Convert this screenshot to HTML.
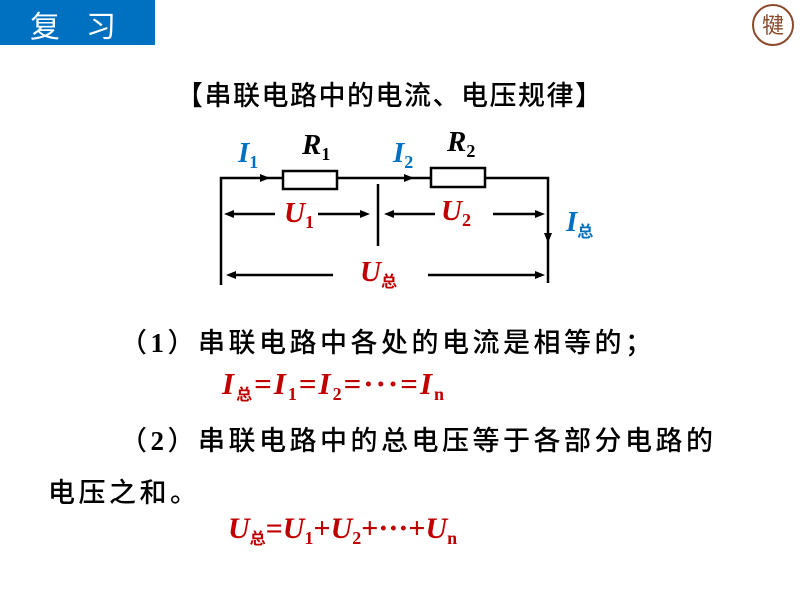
<!DOCTYPE html><html><head><meta charset="utf-8"><style>
body{margin:0;width:800px;height:600px;background:#fff;position:relative;overflow:hidden;font-family:"Liberation Sans","Noto Sans CJK SC",sans-serif}
.a{position:absolute;white-space:nowrap}
.cn{font-size:27px;letter-spacing:3.5px;color:#000;font-family:"Noto Sans CJK SC",sans-serif;font-weight:500}
.cn b{font-family:"Liberation Serif",serif;font-weight:bold}
.f{font-family:"Liberation Serif","Noto Serif CJK SC",serif;font-weight:bold;color:#c00000;font-size:29px}
.f i{font-style:italic}
.f sub{font-size:18px;vertical-align:-6px;font-style:normal}
.s{font-family:"Noto Sans CJK SC",sans-serif;font-size:16px!important}
</style></head><body>
<div class="a" style="left:0;top:0;width:155px;height:45px;background:#0070c0"></div>
<div class="a" style="left:30px;top:2px;color:#fff;font-size:30px;font-family:'Noto Sans CJK SC',sans-serif;letter-spacing:26px">复习</div>
<div class="a" style="left:752px;top:4px;width:42px;height:42px;border:2px solid #8b4a2b;border-radius:50%;color:#8b4a2b;font-size:22px;text-align:center;line-height:40px;box-sizing:border-box">犍</div>
<div class="a cn" style="left:176px;top:74px;letter-spacing:1.5px">【串联电路中的电流、电压规律】</div>
<svg class="a" style="left:0;top:0" width="800" height="600">
<g stroke="#000" stroke-width="2.5" fill="none">
<path d="M221 285V178H283M337 178H431M485 178H548V283"/>
<rect x="283" y="171" width="54" height="18" fill="#fff"/>
<rect x="431" y="168" width="54" height="19" fill="#fff"/>
<path d="M378 184V246"/>
<path d="M275 214H232M318 214H362M435 214H393M493 214H535M333 275H234M428 275H535"/>
</g>
<g fill="#000">
<path d="M270 178l-10-4v8z"/><path d="M414 178l-10-4v8z"/>
<path d="M548 243l-4-10h8z"/>
<path d="M224 214l10-4v8z"/><path d="M370 214l-10-4v8z"/>
<path d="M384 214l10-4v8z"/><path d="M545 214l-10-4v8z"/>
<path d="M226 275l10-4v8z"/><path d="M545 275l-10-4v8z"/>
</g>
</svg>
<div class="a f" style="left:238px;top:137px;color:#0070c0"><i>I</i><sub>1</sub></div>
<div class="a f" style="left:302px;top:129px;color:#000"><i>R</i><sub>1</sub></div>
<div class="a f" style="left:393px;top:137px;color:#0070c0"><i>I</i><sub>2</sub></div>
<div class="a f" style="left:447px;top:126px;color:#000"><i>R</i><sub>2</sub></div>
<div class="a f" style="left:284px;top:197px"><i>U</i><sub>1</sub></div>
<div class="a f" style="left:441px;top:195px"><i>U</i><sub>2</sub></div>
<div class="a f" style="left:566px;top:206px;color:#0070c0"><i>I</i><sub class="s">总</sub></div>
<div class="a f" style="left:360px;top:256px"><i>U</i><sub class="s">总</sub></div>
<div class="a cn" style="left:120px;top:321px">（<b>1</b>）串联电路中各处的电流是相等的；</div>
<div class="a f" style="left:222px;top:366px;font-size:31px;letter-spacing:2px"><i>I</i><sub class="s">总</sub>=<i>I</i><sub>1</sub>=<i>I</i><sub>2</sub>=···=<i>I</i><sub>n</sub></div>
<div class="a cn" style="left:120px;top:419px">（<b>2</b>）串联电路中的总电压等于各部分电路的</div>
<div class="a cn" style="left:48px;top:471px">电压之和。</div>
<div class="a f" style="left:228px;top:512px;font-size:30px"><i>U</i><sub class="s">总</sub>=<i>U</i><sub>1</sub>+<i>U</i><sub>2</sub>+···+<i>U</i><sub>n</sub></div>
</body></html>
